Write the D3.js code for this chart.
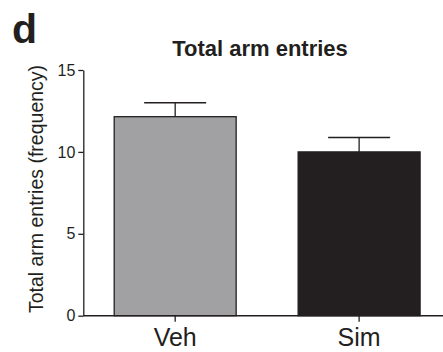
<!DOCTYPE html>
<html><head><meta charset="utf-8">
<script src="https://cdn.jsdelivr.net/npm/d3@7"></script>
<style>body{margin:0;background:#fff}svg{display:block}text{font-family:"Liberation Sans",Arial,sans-serif;fill:#231f20}</style>
</head><body>
<script>
const categories = ["Veh", "Sim"];
const means = [12.15, 10.0];
const errors = [0.85, 0.88];
const yTicks = [0, 5, 10, 15];
const colors = ["#a1a1a4", "#231f20"];

const W = 443, H = 352;
const svg = d3.select("body").append("svg").attr("width", W).attr("height", H);

const y = d3.scaleLinear().domain([0, 15]).range([315.7, 70]);
const x = d3.scaleBand().domain(categories).range([83.3, 451]).paddingInner(0.337).paddingOuter(0.168);

// y axis
const yAxis = svg.append("g").attr("transform", "translate(83.3,0)")
  .call(d3.axisLeft(y).tickValues(yTicks).tickSize(5).tickSizeOuter(0).tickPadding(3));
yAxis.select(".domain").attr("stroke", "#231f20").attr("stroke-width", 1.3);
yAxis.selectAll(".tick line").attr("stroke", "#231f20").attr("stroke-width", 1.3);
yAxis.selectAll(".tick text").style("font-size", "16px").style("font-family", '"Liberation Sans",Arial,sans-serif').attr("fill", "#231f20");

// error bars
categories.forEach((c, i) => {
  const cx = x(c) + x.bandwidth() / 2;
  const g = svg.append("g");
  g.append("line").attr("x1", cx).attr("x2", cx).attr("y1", y(means[i])).attr("y2", y(means[i] + errors[i]))
    .attr("stroke", "#231f20").attr("stroke-width", 1.3);
  g.append("line").attr("x1", cx - 31).attr("x2", cx + 31).attr("y1", y(means[i] + errors[i])).attr("y2", y(means[i] + errors[i]))
    .attr("stroke", "#231f20").attr("stroke-width", 1.5);
});

// bars
svg.selectAll("rect.bar").data(categories).enter().append("rect")
  .attr("x", d => x(d)).attr("width", x.bandwidth())
  .attr("y", (d, i) => y(means[i])).attr("height", (d, i) => y(0) - y(means[i]))
  .attr("fill", (d, i) => colors[i]).attr("stroke", "#231f20").attr("stroke-width", 1.3);

// x axis
const xAxis = svg.append("g").attr("transform", `translate(0,${y(0)})`)
  .call(d3.axisBottom(x).tickSize(6).tickSizeOuter(0).tickPadding(7));
xAxis.select(".domain").remove();
xAxis.append("line").attr("x1", 83.3).attr("x2", 443).attr("stroke", "#231f20").attr("stroke-width", 1.5);
xAxis.selectAll(".tick line").attr("stroke", "#231f20").attr("stroke-width", 1.3);
xAxis.selectAll(".tick text").attr("dy", null).attr("y", 30.8).style("font-size", "25px").style("font-family", '"Liberation Sans",Arial,sans-serif').attr("fill", "#231f20");

// labels
svg.append("text").attr("x", 12).attr("y", 43).style("font-size", "41px").style("font-weight", "bold").text("d");
svg.append("text").attr("x", 260).attr("y", 56).attr("text-anchor", "middle").style("font-size", "22px").style("font-weight", "bold").text("Total arm entries");
svg.append("text").attr("transform", "translate(42.5,189) rotate(-90)").attr("text-anchor", "middle").style("font-size", "19.5px").text("Total arm entries (frequency)");
</script>
</body></html>
